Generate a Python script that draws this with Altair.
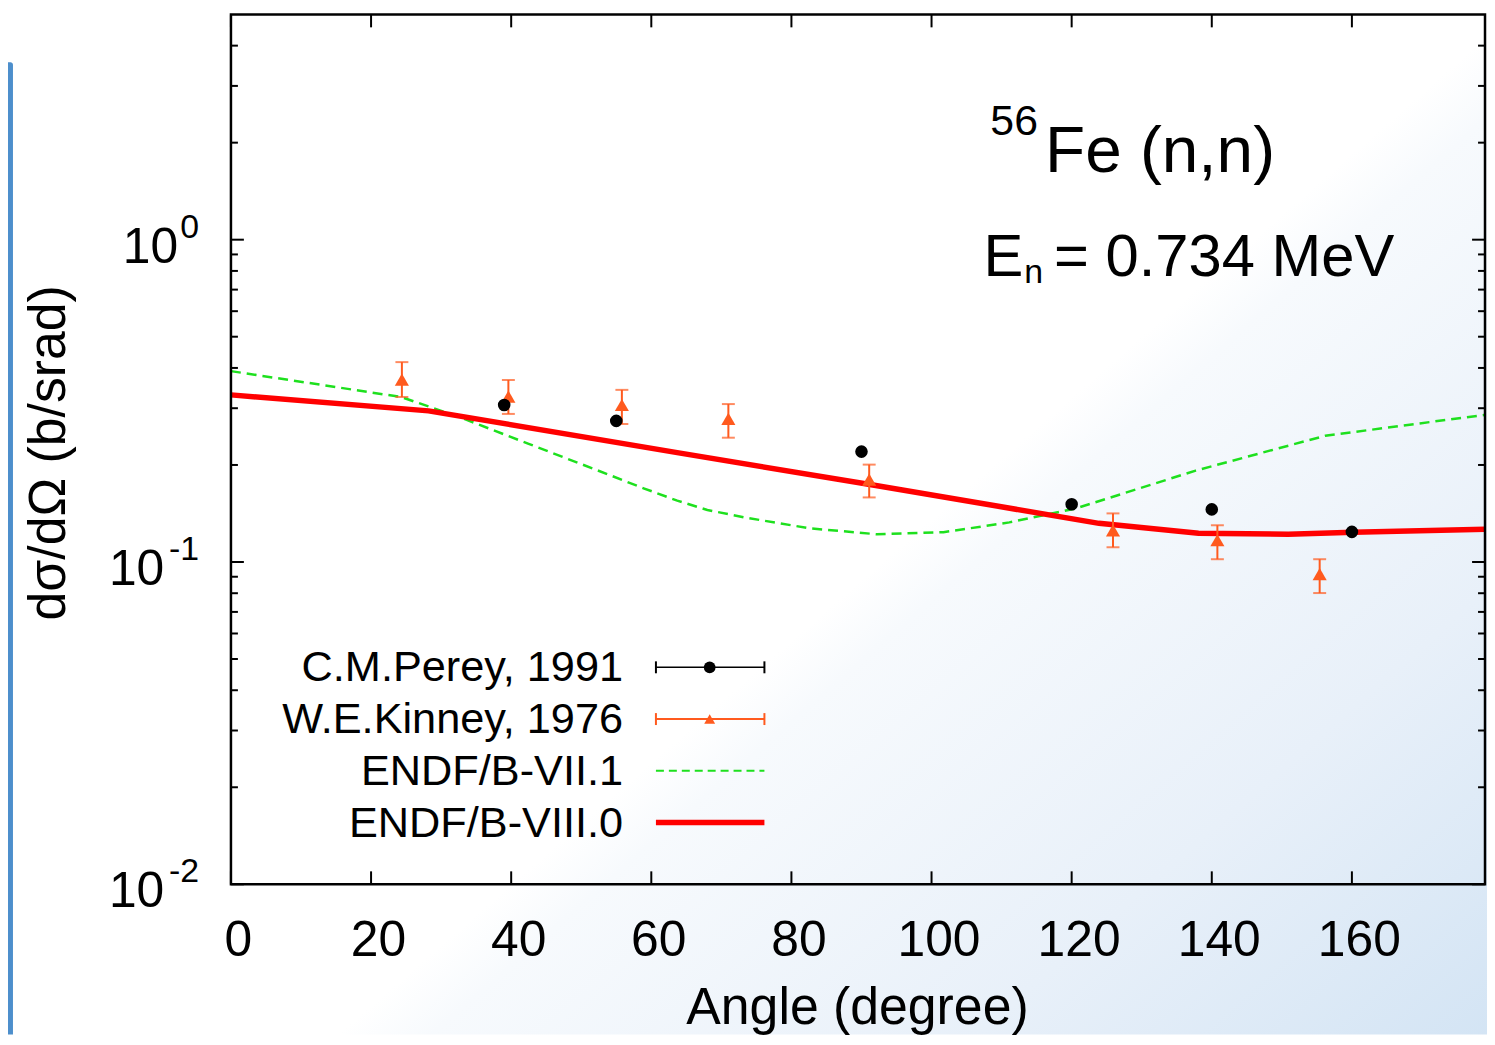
import altair as alt
import pandas as pd

# ---------------- data ----------------
perey_angle = [39, 55, 90, 120, 140, 160]
perey_xs = [0.307, 0.274, 0.220, 0.151, 0.1456, 0.124]

kinney_angle = [24.4, 39.6, 55.8, 71.0, 91.1, 125.9, 140.8, 155.4]
kinney_xs = [0.368, 0.326, 0.307, 0.278, 0.180, 0.1254, 0.1168, 0.0917]
kinney_hi = [0.417, 0.367, 0.342, 0.309, 0.2005, 0.1415, 0.130, 0.102]
kinney_lo = [0.325, 0.288, 0.268, 0.243, 0.1586, 0.1111, 0.102, 0.0801]

endf71_angle = [0, 24.3, 32.9, 42.4, 51.9, 59.0, 63.7, 68.0, 73.3, 82.6, 92.2, 101.7,
                111.1, 120.6, 137.7, 156.2, 179]
endf71_xs = [0.391, 0.325, 0.280, 0.233, 0.194, 0.169, 0.155, 0.145, 0.1375, 0.1272,
             0.1219, 0.1237, 0.1327, 0.1466, 0.1921, 0.2464, 0.2861]

endf80_angle = [0, 28.2, 63.7, 91.2, 123.9, 138.1, 150.9, 160.2, 179]
endf80_xs = [0.330, 0.2943, 0.2184, 0.1739, 0.1318, 0.1228, 0.1219, 0.1237, 0.1263]

x_ticks = [0, 20, 40, 60, 80, 100, 120, 140, 160]
y_major = [0.01, 0.1, 1]
y_minor = [0.02, 0.03, 0.04, 0.05, 0.06, 0.07, 0.08, 0.09,
           0.2, 0.3, 0.4, 0.5, 0.6, 0.7, 0.8, 0.9, 2, 3, 4]
y_exps = ["-2", "-1", "0"]

legend_labels = ["C.M.Perey, 1991", "W.E.Kinney, 1976", "ENDF/B-VII.1", "ENDF/B-VIII.0"]

# ---------------- styling ----------------
W, H = 1260, 874
PB = 151
FONT = "Liberation Sans"
ORANGE = "#ff5a1e"
GREEN = "#1ee01e"
RED = "#ff0000"

xsc = alt.Scale(domain=[0, 179], nice=False, zero=False, padding=0)
ysc = alt.Scale(type="log", domain=[0.01, 5], nice=False, padding=0)
xax = alt.Axis(title="Angle (degree)", values=x_ticks, labelFont=FONT, labelFontSize=50,
               labelColor="black", labelPadding=32, labelOffset=7, labelFlush=False,
               labelOverlap=False, labelBound=False, ticks=False, tickSize=0,
               domain=False, grid=False, titleFont=FONT, titleFontSize=52,
               titleFontWeight="normal", titleColor="black", titleX=629, titleY=140,
               titleBaseline="alphabetic", titleAlign="center", zindex=2)
yax = alt.Axis(title="dσ/dΩ (b/srad)", labels=False, ticks=False, tickSize=0,
               domain=False, grid=False, titleFont=FONT, titleFontSize=52,
               titleFontWeight="normal", titleColor="black", titleX=-167, titleY=440,
               titleAngle=270, titleBaseline="alphabetic", titleAlign="center", zindex=2)


def X(f):
    return alt.X(f, type="quantitative", scale=xsc, axis=xax)


def Y(f):
    return alt.Y(f, type="quantitative", scale=ysc, axis=yax)


perey = pd.DataFrame({"angle": perey_angle, "xs": perey_xs})
kinney = pd.DataFrame({"angle": kinney_angle, "xs": kinney_xs, "hi": kinney_hi, "lo": kinney_lo})
e71 = pd.DataFrame({"angle": endf71_angle, "xs": endf71_xs})
e80 = pd.DataFrame({"angle": endf80_angle, "xs": endf80_xs})
xt = pd.DataFrame({"t": x_ticks})
ymaj = pd.DataFrame({"v": y_major, "exp": y_exps})
ymin = pd.DataFrame({"v": y_minor})
one = pd.DataFrame({"a": [0]})

grad = alt.LinearGradient(
    gradient="linear",
    stops=[alt.GradientStop(offset=0, color="#ffffff"),
           alt.GradientStop(offset=0.08, color="#f7fafd"),
           alt.GradientStop(offset=0.55, color="#e8f0f9"),
           alt.GradientStop(offset=1, color="#d3e4f4")],
    x1=0.6217, y1=0.5, x2=1.1015, y2=0.8824)

layers = []
# background gradient
layers.append(alt.Chart(one).mark_rect(fill=grad, strokeWidth=0).encode(
    x=alt.value(-224), x2=alt.value(W + 2), y=alt.value(-4), y2=alt.value(H + PB)))
# slide's blue side bar
layers.append(alt.Chart(one).mark_rect(color="#4d8fcc", cornerRadiusTopRight=4).encode(
    x=alt.value(-224), x2=alt.value(-219), y=alt.value(48), y2=alt.value(H + PB)))

# curves
layers.append(alt.Chart(e71).mark_line(color=GREEN, strokeWidth=2.5, strokeDash=[10, 6]).encode(
    x=X("angle"), y=Y("xs")))
layers.append(alt.Chart(e80).mark_line(color=RED, strokeWidth=5.5).encode(
    x=X("angle"), y=Y("xs")))

# Kinney error bars + markers
layers.append(alt.Chart(kinney).mark_rule(color=ORANGE, strokeWidth=2).encode(
    x=X("angle"), y=Y("lo"), y2="hi"))
layers.append(alt.Chart(kinney).mark_tick(color=ORANGE, orient="horizontal", size=13, thickness=2).encode(
    x=X("angle"), y=Y("lo")))
layers.append(alt.Chart(kinney).mark_tick(color=ORANGE, orient="horizontal", size=13, thickness=2).encode(
    x=X("angle"), y=Y("hi")))
layers.append(alt.Chart(kinney).mark_point(shape="triangle-up", filled=True, size=200,
                                           color=ORANGE, opacity=1).encode(
    x=X("angle"), y=Y("xs")))

# Perey points
layers.append(alt.Chart(perey).mark_circle(size=160, color="black", opacity=1).encode(
    x=X("angle"), y=Y("xs")))

# ticks (inward, mirrored)
layers.append(alt.Chart(xt).mark_rule(color="black", strokeWidth=2).encode(
    x=X("t"), y=alt.value(H), y2=alt.value(H - 13)))
layers.append(alt.Chart(xt).mark_rule(color="black", strokeWidth=2).encode(
    x=X("t"), y=alt.value(0), y2=alt.value(13)))
for df, ln in ((ymaj, 13), (ymin, 7)):
    layers.append(alt.Chart(df).mark_rule(color="black", strokeWidth=2).encode(
        y=Y("v"), x=alt.value(0), x2=alt.value(ln)))
    layers.append(alt.Chart(df).mark_rule(color="black", strokeWidth=2).encode(
        y=Y("v"), x=alt.value(W), x2=alt.value(W - ln)))

# y tick labels  10^n
layers.append(alt.Chart(ymaj).mark_text(font=FONT, fontSize=34, align="right", baseline="middle",
                                        dy=-12, color="black").encode(
    y=Y("v"), x=alt.value(-32), text="exp:N"))
layers.append(alt.Chart(ymaj).transform_filter("length(datum.exp) == 1").mark_text(
    font=FONT, fontSize=50, align="right", baseline="middle", dy=8, color="black").encode(
    y=Y("v"), x=alt.value(-53), text=alt.value("10")))
layers.append(alt.Chart(ymaj).transform_filter("length(datum.exp) > 1").mark_text(
    font=FONT, fontSize=50, align="right", baseline="middle", dy=8, color="black").encode(
    y=Y("v"), x=alt.value(-67), text=alt.value("10")))


# annotation
def txt(s, x, y, size, align="left"):
    return alt.Chart(one).mark_text(font=FONT, fontSize=size, align=align,
                                    baseline="alphabetic", color="black").encode(
        x=alt.value(x), y=alt.value(y), text=alt.value(s))


layers.append(txt("56", 763, 121, 43))
layers.append(txt("Fe (n,n)", 818, 158, 66))
layers.append(txt("E", 756, 263, 60))
layers.append(txt("n", 797, 270, 34))
layers.append(txt("= 0.734 MeV", 827, 263, 60))

# legend
LX0, LX1, LXC = 427, 536, 481
rows = [656, 708, 760, 812]
bases = [670, 722, 774, 826]
for lab, b in zip(legend_labels, bases):
    layers.append(txt(lab, 394, b, 43.5, align="right"))


def hline(y, color, width, dash=None):
    kw = dict(color=color, strokeWidth=width)
    if dash:
        kw["strokeDash"] = dash
    return alt.Chart(one).mark_rule(**kw).encode(
        x=alt.value(LX0), x2=alt.value(LX1), y=alt.value(y))


def cap(x, y, color):
    return alt.Chart(one).mark_rule(color=color, strokeWidth=2).encode(
        x=alt.value(x), y=alt.value(y - 6), y2=alt.value(y + 6))


layers.append(hline(rows[0], "black", 1.5))
layers.append(cap(LX0, rows[0], "black"))
layers.append(cap(LX1, rows[0], "black"))
layers.append(alt.Chart(one).mark_circle(size=140, color="black", opacity=1).encode(
    x=alt.value(LXC), y=alt.value(rows[0])))
layers.append(hline(rows[1], ORANGE, 2))
layers.append(cap(LX0, rows[1], ORANGE))
layers.append(cap(LX1, rows[1], ORANGE))
layers.append(alt.Chart(one).mark_point(shape="triangle-up", filled=True, size=120,
                                        color=ORANGE, opacity=1).encode(
    x=alt.value(LXC), y=alt.value(rows[1])))
layers.append(hline(rows[2], GREEN, 2, [8, 5]))
layers.append(hline(rows[3], RED, 5.5))

# frame
layers.append(alt.Chart(one).mark_rect(filled=False, color="black", strokeWidth=2.5).encode(
    x=alt.value(0), x2=alt.value(W), y=alt.value(0), y2=alt.value(H)))

chart = alt.layer(*layers).properties(
    width=W, height=H,
    padding={"left": 224, "top": 4, "right": 2, "bottom": PB},
    autosize=alt.AutoSizeParams(type="none"),
    background="white",
).configure_view(strokeWidth=0)

chart.save("out.html", embed_options={"renderer": "svg", "actions": False})
